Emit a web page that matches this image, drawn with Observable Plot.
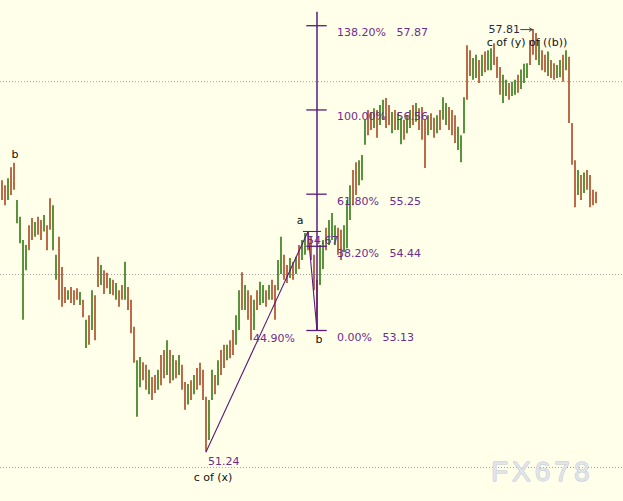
<!DOCTYPE html>
<html>
<head>
<meta charset="utf-8">
<script src="https://cdn.jsdelivr.net/npm/d3@7"></script>
<script src="https://cdn.jsdelivr.net/npm/@observablehq/plot@0.6"></script>
<style>
  html, body { margin: 0; padding: 0; background: #ffffea; }
  #chart svg { display: block; }
</style>
</head>
<body>
<div id="chart"></div>
<script>
// Bar highs and lows, one per session
const high = [
  55.46,55.38,55.49,55.66,55.73,55.15,54.89,54.53,54.45,54.76,
  54.87,54.81,54.89,54.84,54.92,54.76,55.18,55.07,54.30,54.58,
  54.11,53.80,53.75,53.80,53.75,53.78,53.72,53.60,53.29,53.36,
  53.75,53.67,54.27,54.14,54.06,54.02,53.94,53.91,53.86,53.75,
  53.83,54.19,53.80,53.60,53.18,52.66,52.71,52.63,52.59,52.51,
  52.40,52.43,52.51,52.74,52.82,52.97,52.82,52.74,52.66,52.74,
  52.59,52.32,52.29,52.35,52.43,52.54,52.62,52.51,52.09,52.04,
  52.51,52.43,52.66,52.82,52.90,52.90,52.97,53.13,53.36,53.75,
  54.03,53.83,53.75,53.67,53.60,53.75,53.88,53.83,53.75,53.83,
  53.91,53.83,54.22,54.58,54.30,54.14,54.25,54.19,54.27,54.45,
  54.53,54.64,54.67,54.58,54.30,53.91,54.45,54.53,54.72,54.84,
  54.95,54.76,54.72,54.69,54.76,55.15,55.38,55.62,55.74,55.77,
  55.85,56.40,56.55,56.52,56.58,56.55,56.63,56.71,56.74,56.63,
  56.52,56.55,56.50,56.43,56.40,56.47,56.55,56.63,56.66,56.58,
  56.60,56.40,56.47,56.50,56.43,56.47,56.55,56.75,56.66,56.60,
  56.55,56.47,56.29,56.16,56.75,57.56,57.48,57.36,57.41,57.33,
  57.41,57.46,57.48,57.51,57.59,57.38,57.22,57.10,57.02,56.97,
  56.99,57.02,57.10,57.18,57.27,57.28,57.64,57.81,57.75,57.64,
  57.48,57.41,57.46,57.33,57.28,57.25,57.33,57.41,57.48,57.38,
  56.35,55.77,55.62,55.54,55.58,55.62,55.54,55.31,55.28
];
const low = [
  55.15,55.07,55.15,55.23,55.31,54.79,54.48,53.29,54.06,54.37,
  54.53,54.58,54.61,54.53,54.66,54.37,54.69,54.37,53.91,53.60,
  53.49,53.55,53.60,53.55,53.52,53.60,53.52,53.33,52.85,52.90,
  53.13,52.97,53.80,53.83,53.69,53.78,53.69,53.67,53.60,53.49,
  53.60,53.60,53.44,53.08,52.62,51.78,52.24,52.35,52.20,52.13,
  52.04,52.15,52.20,52.27,52.38,52.43,52.30,52.35,52.38,52.43,
  52.20,51.89,51.97,52.04,52.13,52.20,52.27,52.04,51.24,51.42,
  52.04,52.13,52.27,52.43,52.54,52.66,52.69,52.74,52.90,53.13,
  53.44,53.44,53.29,52.97,53.13,53.44,53.52,53.55,53.49,53.60,
  53.60,53.29,53.75,54.00,53.91,53.86,53.94,53.91,54.00,54.08,
  54.22,54.30,54.37,54.22,53.75,53.13,53.83,54.08,54.37,54.45,
  54.53,54.45,54.30,54.22,54.34,54.40,54.84,55.07,55.23,55.38,
  55.46,56.01,56.16,56.24,56.27,56.12,56.32,56.40,56.27,56.32,
  56.19,56.24,56.24,56.02,56.09,56.19,56.27,56.32,56.37,56.24,
  56.09,55.65,56.16,56.24,56.12,56.19,56.24,56.40,56.32,56.24,
  56.16,56.04,55.93,55.74,56.19,56.71,57.08,57.02,57.05,56.97,
  57.08,57.14,57.17,57.17,57.25,57.05,56.79,56.66,56.77,56.71,
  56.77,56.79,56.82,56.88,56.97,57.05,57.25,57.41,57.33,57.25,
  57.17,57.14,57.08,57.05,57.02,57.05,57.06,56.99,57.17,56.35,
  55.70,55.04,55.23,55.15,55.26,55.31,55.04,55.07,55.10
];
// u = closed up, d = closed down
const direction = (
  "ddudduuuud" + "duddudduud" + "ddudddudud" + "udduddudud" + "duddduuddu" +
  "dduddududu" + "ddududdddu" + "ududdudduu" + "dudduduudu" + "dduuddudud" +
  "uudddduudu" + "uudduuuddu" + "uudduduudd" + "uduuduudud" + "ddudduduud" +
  "dduuudduud" + "uduuddduud" + "uuduuudddu" + "ddudduudud" + "ddududddd"
).split("");

// Horizontal reference levels
const gridLevels = [51, 54, 57];

// Wave points: c of (x), a, b
const waveIndex = [68, 102, 105];
const wavePrice = [51.24, 54.67, 53.13];

// Fibonacci projection measured from b
const fibPct = ["0.00%", "38.20%", "61.80%", "100.00%", "138.20%"];
const fibValue = [53.13, 54.44, 55.25, 56.56, 57.87];
const fibTop = 58.08;
const retracePct = "44.90%";

// Top of wave c of (y) of ((b))
const peakIndex = 177;
const peakPrice = 57.81;

const bars = high.map((h, i) => ({i, high: h, low: low[i], up: direction[i] === "u"}));
const wave = waveIndex.map((i, k) => ({i, p: wavePrice[k]}));
const bIdx = waveIndex[2], bPrice = wavePrice[2];
const fib = fibValue.map((v, k) => ({p: v, label: fibPct[k] + "\u00a0\u00a0\u00a0" + v.toFixed(2)}));

const purple = "#5b1a7c";
const labelPurple = "#6e2c8c";
const upColor = "#226f00";
const downColor = "#a63a12";

const pxPerUnit = 64.3;
const chart = Plot.plot({
  width: 623,
  height: 501,
  margin: 0,
  x: {domain: [0, 623 / 3], axis: null},
  y: {domain: [53.13 - 171 / pxPerUnit, 53.13 + 330 / pxPerUnit], axis: null},
  color: {type: "identity"},
  style: {background: "#ffffea", fontFamily: "DejaVu Sans", fontSize: "11px"},
  marks: [
    Plot.ruleY(gridLevels, {stroke: "#a0a0a0", strokeDasharray: "1,2", strokeWidth: 1}),
    Plot.ruleX(bars, {
      x: d => d.i + 0.5, y1: "low", y2: "high",
      stroke: d => d.up ? upColor : downColor, strokeWidth: 1.5
    }),
    // wave path c of (x) -> a -> b
    Plot.line(wave, {x: d => d.i + 0.5, y: "p", stroke: purple, strokeWidth: 1.1}),
    // fib vertical and level ticks
    Plot.ruleX([bIdx + 0.5], {y1: bPrice, y2: fibTop, stroke: purple, strokeWidth: 1.5}),
    Plot.ruleY(fib, {y: "p", x1: bIdx + 0.5 - 3.4, x2: bIdx + 0.5 + 3.4, stroke: purple, strokeWidth: 1.3}),
    Plot.ruleY([wave[1]], {y: "p", x1: d => d.i - 1, x2: d => d.i + 5, stroke: purple, strokeWidth: 1}),
    Plot.text(fib, {x: bIdx + 0.5, y: "p", text: "label", dx: 20, dy: 7, textAnchor: "start", fill: labelPurple}),
    Plot.text([wave[2]], {x: d => d.i + 0.5, y: "p", text: [retracePct], dx: -64, dy: 8, textAnchor: "start", fill: labelPurple}),
    Plot.text([wave[0]], {x: d => d.i + 0.5, y: "p", text: d => d.p.toFixed(2), dx: 2, dy: 9, textAnchor: "start", fill: labelPurple}),
    Plot.text([wave[1]], {x: d => d.i + 0.5, y: "p", text: d => d.p.toFixed(2), dx: -1, dy: 9, textAnchor: "start", fill: labelPurple}),
    // wave labels
    Plot.text([wave[0]], {x: d => d.i + 0.5, y: "p", text: ["c of (x)"], dx: 7, dy: 25, fill: "#111"}),
    Plot.text([wave[1]], {x: d => d.i + 0.5, y: "p", text: ["a"], dx: -8, dy: -11, fill: "#111"}),
    Plot.text([wave[2]], {x: d => d.i + 0.5, y: "p", text: ["b"], dx: 2, dy: 9, fill: "#111"}),
    Plot.text([bars[4]], {x: d => d.i + 0.5, y: "high", text: ["b"], dx: 1, dy: -9, fill: "#111"}),
    // peak annotation
    Plot.arrow([{i: peakIndex, p: peakPrice}], {
      x1: d => d.i - 3.6, x2: d => d.i + 0.3, y1: "p", y2: "p",
      stroke: "#444", strokeWidth: 1, headLength: 5
    }),
    Plot.text([{i: peakIndex, p: peakPrice}], {x: d => d.i + 0.5, y: "p", text: d => d.p.toFixed(2), dx: -13, dy: 0, textAnchor: "end", fill: "#2a2a3a"}),
    Plot.text([{i: peakIndex, p: peakPrice}], {x: d => d.i + 0.5, y: "p", text: ["c of (y) of ((b))"], dx: -6, dy: 13, fill: "#111"}),
    // watermark
    Plot.text(["FX678"], {
      frameAnchor: "bottom-right", dx: -30, dy: -21, text: d => d,
      fill: "#e1e4ea", stroke: "#bcc2cc", strokeWidth: 0.9,
      fontSize: 28, fontFamily: "Liberation Sans"
    })
  ]
});

chart.querySelectorAll("text").forEach(t => {
  if (t.textContent === "FX678") t.setAttribute("letter-spacing", "4");
});
document.getElementById("chart").appendChild(chart);
</script>
</body>
</html>
